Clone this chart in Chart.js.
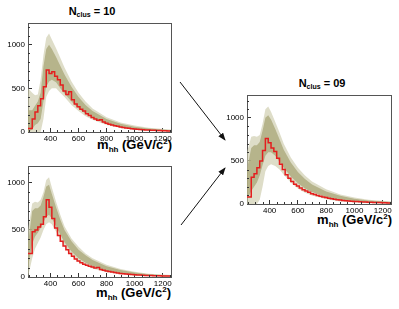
<!DOCTYPE html>
<html>
<head>
<meta charset="utf-8">
<script src="https://cdn.jsdelivr.net/npm/chart.js@4.4.1/dist/chart.umd.min.js"></script>
<style>
  body { margin: 0; width: 399px; height: 309px; background: #fff; position: relative; overflow: hidden;
         font-family: "Liberation Sans", Arial, sans-serif; }
  canvas { position: absolute; }
  .title { position: absolute; font-weight: bold; font-size: 11px; line-height: 1; white-space: nowrap; transform: translateX(-50%); }
  .title sub { font-size: 7px; vertical-align: -2px; line-height: 0; }
  .xlabel { position: absolute; font-weight: bold; font-size: 13px; line-height: 1; white-space: nowrap; }
  .xlabel sub { font-size: 8px; vertical-align: -3px; line-height: 0; }
  .xlabel sup { font-size: 8px; vertical-align: 5px; line-height: 0; }
  svg { position: absolute; left: 0; top: 0; }
</style>
</head>
<body>

<div class="title" style="left:92px; top:6px">N<sub>clus</sub> = 10</div>
<div class="title" style="left:322px; top:78px">N<sub>clus</sub> = 09</div>

<div class="xlabel" style="right:227px; top:138px">m<sub>hh</sub> (GeV/c<sup>2</sup>)</div>
<div class="xlabel" style="right:228px; top:286px">m<sub>hh</sub> (GeV/c<sup>2</sup>)</div>
<div class="xlabel" style="right:7px; top:213px">m<sub>hh</sub> (GeV/c<sup>2</sup>)</div>

<canvas id="cTop"></canvas>
<canvas id="cBottom"></canvas>
<canvas id="cRight"></canvas>

<svg width="399" height="309">
  <defs>
    <marker id="head" markerWidth="8" markerHeight="6" refX="7" refY="3" orient="auto" markerUnits="userSpaceOnUse">
      <path d="M0,0 L8,3 L0,6 Z" fill="#111"/>
    </marker>
  </defs>
  <line x1="180" y1="82" x2="225" y2="140" stroke="#111" stroke-width="1" marker-end="url(#head)"/>
  <line x1="181" y1="225" x2="225" y2="168" stroke="#111" stroke-width="1" marker-end="url(#head)"/>
</svg>

<script>
// --- Data ---
const xTicks = [400, 600, 800, 1000, 1200];
const yTicks = [0, 500, 1000];

// histogram bin edges (GeV/c^2)
const binEdges = [240, 270, 290, 310, 330, 350, 370, 390, 410, 430, 450, 470, 490, 510, 530, 550,
  570, 590, 610, 630, 650, 670, 690, 710, 730, 750, 770, 790, 810, 830, 850, 870, 890, 910, 930,
  950, 970, 990, 1010, 1030, 1050, 1070, 1090, 1110, 1130, 1150, 1170, 1190, 1210, 1230, 1260];

// x positions of the envelope of the toy histograms
const bandX = [240, 270, 290, 310, 330, 350, 370, 390, 410, 440, 470, 500, 550, 600, 650, 700,
  800, 900, 1000, 1100, 1260];

// N_clus = 10, upper panel
const redTop = [40, 150, 230, 300, 380, 520, 710, 670, 690, 640, 600, 540, 470, 430, 460, 370,
  320, 290, 260, 240, 210, 190, 165, 150, 135, 140, 115, 100, 90, 80, 72, 65, 58, 52, 47, 42,
  38, 34, 31, 28, 26, 24, 22, 20, 19, 17, 16, 15, 13, 12];
const outerHighTop = [500, 450, 420, 430, 600, 880, 1080, 1130, 1060, 960, 850, 740, 580, 450, 350, 270, 170, 110, 75, 50, 30];
const outerLowTop  = [0, 0, 0, 0, 0, 150, 400, 470, 500, 500, 450, 400, 310, 240, 180, 140, 80, 45, 25, 12, 5];
const innerHighTop = [250, 250, 300, 350, 450, 750, 950, 1000, 950, 860, 760, 660, 520, 400, 310, 240, 150, 95, 60, 40, 20];
const innerLowTop  = [0, 30, 80, 100, 150, 350, 520, 580, 600, 570, 500, 440, 350, 270, 210, 160, 95, 55, 35, 20, 8];

// N_clus = 10, lower panel
const redBottom = [250, 480, 500, 530, 560, 640, 820, 740, 620, 520, 440, 380, 330, 290, 250, 220,
  190, 170, 150, 135, 125, 115, 105, 95, 100, 80, 72, 65, 58, 52, 47, 42, 38, 34, 31, 28,
  26, 24, 22, 20, 18, 17, 16, 15, 14, 13, 12, 11, 10, 10];
const outerHighBottom = [500, 780, 800, 790, 820, 900, 1030, 1060, 950, 800, 660, 540, 410, 320, 250, 200, 130, 85, 55, 35, 20];
const outerLowBottom  = [0, 200, 300, 360, 420, 500, 560, 580, 560, 480, 400, 320, 220, 160, 120, 90, 50, 28, 16, 8, 3];
const innerHighBottom = [350, 700, 730, 730, 760, 850, 960, 980, 880, 740, 610, 500, 380, 290, 230, 180, 115, 75, 48, 30, 16];
const innerLowBottom  = [100, 350, 430, 470, 520, 580, 640, 660, 620, 540, 450, 370, 270, 200, 150, 115, 65, 38, 22, 12, 5];

// N_clus = 09
const redRight = [80, 310, 350, 420, 500, 620, 760, 710, 650, 610, 530, 460, 400, 340, 300, 260,
  230, 210, 185, 165, 150, 135, 120, 110, 100, 90, 82, 75, 68, 62, 56, 50, 46, 42, 38, 35,
  32, 30, 28, 26, 24, 22, 20, 19, 18, 17, 16, 15, 14, 13];
const outerHighRight = [600, 780, 790, 780, 800, 930, 1100, 1130, 1070, 950, 830, 700, 540, 420, 330, 260, 170, 110, 75, 50, 30];
const outerLowRight  = [0, 0, 0, 0, 50, 200, 380, 440, 460, 440, 400, 340, 250, 180, 130, 100, 55, 30, 18, 10, 4];
const innerHighRight = [400, 650, 680, 680, 720, 850, 1000, 1030, 980, 870, 750, 630, 480, 370, 290, 225, 145, 95, 62, 40, 22];
const innerLowRight  = [50, 150, 200, 250, 330, 450, 560, 600, 600, 560, 490, 420, 320, 240, 180, 140, 80, 45, 28, 15, 6];

// --- Layout: where each plot frame sits on the page ---
const Y_AXIS_W = 26;
const X_AXIS_H = 12;

const panels = [
  { id: "cTop", area: { l: 28, t: 24, r: 171, b: 132 }, xMin: 240, xMax: 1260, yMax: 1240,
    red: redTop, oh: outerHighTop, ol: outerLowTop, ih: innerHighTop, il: innerLowTop },
  { id: "cBottom", area: { l: 28, t: 167, r: 171, b: 277 }, xMin: 240, xMax: 1260, yMax: 1170,
    red: redBottom, oh: outerHighBottom, ol: outerLowBottom, ih: innerHighBottom, il: innerLowBottom },
  { id: "cRight", area: { l: 247, t: 96, r: 391, b: 204 }, xMin: 240, xMax: 1260, yMax: 1255,
    red: redRight, oh: outerHighRight, ol: outerLowRight, ih: innerHighRight, il: innerLowRight }
];

// --- small inward minor ticks, ROOT style ---
const minorTicks = {
  id: "minorTicks",
  afterDraw(chart) {
    const { ctx, chartArea: a, scales } = chart;
    const x = scales.x, y = scales.y;
    ctx.save();
    ctx.strokeStyle = "#333";
    ctx.lineWidth = 1;
    ctx.beginPath();
    for (let v = Math.ceil(x.min / 50) * 50; v <= x.max; v += 50) {
      if (v % 200 === 0) continue;
      const px = Math.round(x.getPixelForValue(v)) + 0.5;
      ctx.moveTo(px, a.bottom);
      ctx.lineTo(px, a.bottom - 2);
    }
    for (let v = 100; v <= y.max; v += 100) {
      if (v % 500 === 0) continue;
      const py = Math.round(y.getPixelForValue(v)) + 0.5;
      ctx.moveTo(a.left, py);
      ctx.lineTo(a.left + 2, py);
    }
    ctx.stroke();
    ctx.restore();
  }
};

function band(xs, ys) {
  return xs.map((x, i) => ({ x: x, y: ys[i] }));
}

function steps(edges, vals) {
  return edges.map((x, i) => ({ x: x, y: vals[Math.min(i, vals.length - 1)] }));
}

function buildChart(canvas, p, width, height) {
  canvas.width = width;
  canvas.height = height;

  const tickFont = { family: "'Liberation Sans', Arial, sans-serif", size: 8 };
  const clear = "rgba(0,0,0,0)";
  const frameBorder = { display: true, color: "#555", width: 1 };
  const inwardGrid = { display: true, drawOnChartArea: false, drawTicks: true, tickLength: -4,
    tickColor: "#333", tickWidth: 1 };

  // Chart.js paints the first dataset on top, so the red histogram goes first
  return new Chart(canvas, {
    type: "line",
    data: {
      datasets: [
        { data: steps(binEdges, p.red), stepped: true, borderColor: "rgb(228, 30, 30)",
          borderWidth: 1.5, pointRadius: 0, fill: false },
        { data: band(bandX, p.ih), borderColor: clear, borderWidth: 1, pointRadius: 0, fill: "+1",
          backgroundColor: "rgba(170, 168, 122, 0.78)" },
        { data: band(bandX, p.il), borderColor: clear, borderWidth: 1, pointRadius: 0, fill: false },
        { data: band(bandX, p.oh), borderColor: clear, borderWidth: 1, pointRadius: 0, fill: "+1",
          backgroundColor: "rgba(205, 203, 170, 0.65)" },
        { data: band(bandX, p.ol), borderColor: clear, borderWidth: 1, pointRadius: 0, fill: false }
      ]
    },
    options: {
      responsive: false,
      maintainAspectRatio: false,
      animation: false,
      devicePixelRatio: 1,
      layout: { padding: 0 },
      plugins: { legend: { display: false }, tooltip: { enabled: false } },
      elements: { line: { tension: 0 } },
      scales: {
        x: {
          type: "linear", position: "bottom", min: p.xMin, max: p.xMax,
          grid: inwardGrid, border: frameBorder,
          ticks: { font: tickFont, color: "#000", padding: 6, maxRotation: 0, callback: (v) => String(v) },
          afterBuildTicks: (s) => { s.ticks = xTicks.map((v) => ({ value: v })); },
          afterFit: (s) => { s.height = X_AXIS_H; }
        },
        y: {
          type: "linear", position: "left", min: 0, max: p.yMax,
          grid: inwardGrid, border: frameBorder,
          ticks: { font: tickFont, color: "#000", padding: 7, callback: (v) => String(v) },
          afterBuildTicks: (s) => { s.ticks = yTicks.map((v) => ({ value: v })); },
          afterFit: (s) => { s.width = Y_AXIS_W; }
        },
        xTop: {
          type: "linear", position: "top", min: p.xMin, max: p.xMax,
          grid: { display: false }, border: frameBorder, ticks: { display: false },
          afterFit: (s) => { s.height = 0; }
        },
        yRight: {
          type: "linear", position: "right", min: 0, max: p.yMax,
          grid: { display: false }, border: frameBorder, ticks: { display: false },
          afterFit: (s) => { s.width = 0; }
        }
      }
    },
    plugins: [minorTicks]
  });
}

function makePanel(p) {
  const canvas = document.getElementById(p.id);
  const wantW = p.area.r - p.area.l;
  const wantH = p.area.b - p.area.t;
  let width = wantW + Y_AXIS_W + 20;
  let height = wantH + X_AXIS_H + 20;

  // first pass measures how much room the axes take, second pass fits the frame exactly
  let chart = buildChart(canvas, p, width, height);
  for (let pass = 0; pass < 2; pass++) {
    const a = chart.chartArea;
    const dw = wantW - (a.right - a.left);
    const dh = wantH - (a.bottom - a.top);
    if (Math.abs(dw) < 0.5 && Math.abs(dh) < 0.5) break;
    width += dw;
    height += dh;
    chart.destroy();
    chart = buildChart(canvas, p, Math.round(width), Math.round(height));
  }
  const a = chart.chartArea;
  canvas.style.left = (p.area.l - a.left) + "px";
  canvas.style.top = (p.area.t - a.top) + "px";
}

panels.forEach(makePanel);
</script>
</body>
</html>
